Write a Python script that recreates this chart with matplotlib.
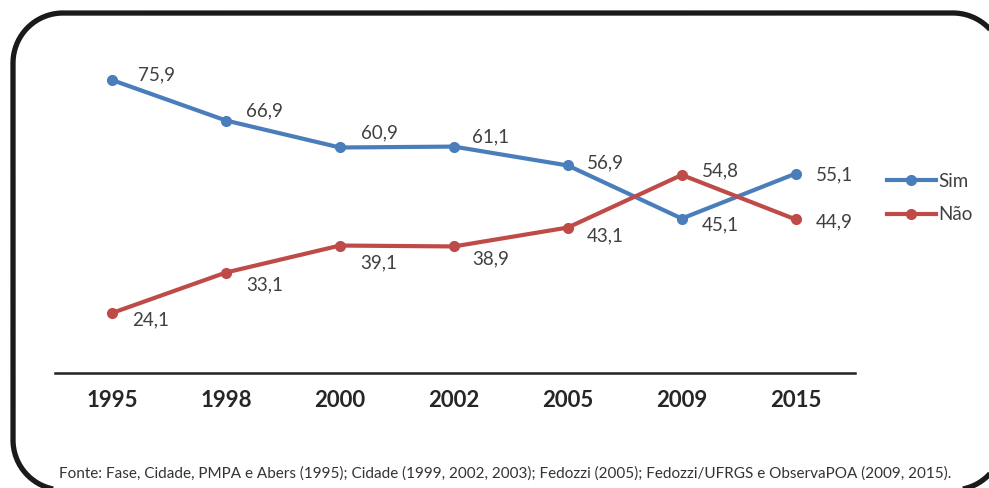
import numpy as np
import matplotlib.pyplot as plt
from matplotlib.lines import Line2D

anos = ['1995', '1998', '2000', '2002', '2005', '2009', '2015']
sim = [75.9, 66.9, 60.9, 61.1, 56.9, 45.1, 55.1]
nao = [24.1, 33.1, 39.1, 38.9, 43.1, 54.8, 44.9]
fonte = ('Fonte: Fase, Cidade, PMPA e Abers (1995); Cidade (1999, 2002, 2003); '
         'Fedozzi (2005); Fedozzi/UFRGS e ObservaPOA (2009, 2015).')

# label offsets in pixels (dx to left edge, dy down)
off_sim = [(26, -5), (20, -10), (21, -15), (18, -10), (19, -3), (20, 6), (20, 1)]
off_nao = [(20, 7), (20, 12), (20, 17), (18, 12), (19, 8), (20, -4), (20, 2)]

blue, red, txt = '#4a7ebb', '#be4b48', '#404040'
plt.rcParams['font.family'] = ['Lato', 'DejaVu Sans']

fig = plt.figure(figsize=(9.89, 4.88), dpi=100)
W, H = 989, 488

# rounded frame drawn as one open path (no right side, it's cropped in the reference)
x0, x1, y0, y1, r = 13, 1003, -2, 475, 50
def arc(cx, cy, a0, a1):
    t = np.radians(np.linspace(a0, a1, 40))
    return list(cx + r*np.cos(t)), list(cy + r*np.sin(t))
px, py = [], []
for cx, cy, a0, a1 in [(x1-r, y1-r, 0, 90), (x0+r, y1-r, 90, 180),
                       (x0+r, y0+r, 180, 270), (x1-r, y0+r, 270, 360)]:
    ax_, ay_ = arc(cx, cy, a0, a1)
    px += ax_
    py += ay_
fig.add_artist(Line2D(np.array(px)/100, np.array(py)/100, color='#1a1a1a',
                      lw=3.8, solid_capstyle='butt',
                      transform=fig.dpi_scale_trans))

ax = fig.add_axes([55/W, 1-373/H, (855-55)/W, (373-40)/H])
x = list(range(len(anos)))
ax.plot(x, sim, color=blue, lw=3, marker='o', ms=7, label='Sim')
ax.plot(x, nao, color=red, lw=3, marker='o', ms=7, label='Não')

for i in x:
    for vals, offs in ((sim, off_sim), (nao, off_nao)):
        dx, dy = offs[i]
        ax.annotate(f'{vals[i]:.1f}'.replace('.', ','), (i, vals[i]),
                    xytext=(dx*0.72, -dy*0.72), textcoords='offset points',
                    ha='left', va='center', fontsize=13.5, color=txt)

ax.set_xlim(-0.5, 6.52)
ax.set_ylim(10.76, 84.8)
ax.set_xticks(x)
ax.set_xticklabels(anos, fontsize=16, fontweight='bold', color='#262626')
ax.tick_params(axis='x', length=0, pad=12)
ax.set_yticks([])
for s in ['top', 'right', 'left']:
    ax.spines[s].set_visible(False)
ax.spines['bottom'].set_linewidth(1.8)
ax.spines['bottom'].set_color('#222222')

leg = ax.legend(loc='center left', bbox_to_anchor=(887/W, 1-198/H),
                bbox_transform=fig.transFigure, frameon=False, fontsize=13.5,
                handlelength=2.6, handletextpad=0.15, labelspacing=0.9,
                borderpad=0, borderaxespad=0)
for t in leg.get_texts():
    t.set_color(txt)

fig.text(59/W, 1-474/H, fonte, fontsize=11, color='#333333',
         ha='left', va='center')

fig.savefig('out.png', dpi=100)
